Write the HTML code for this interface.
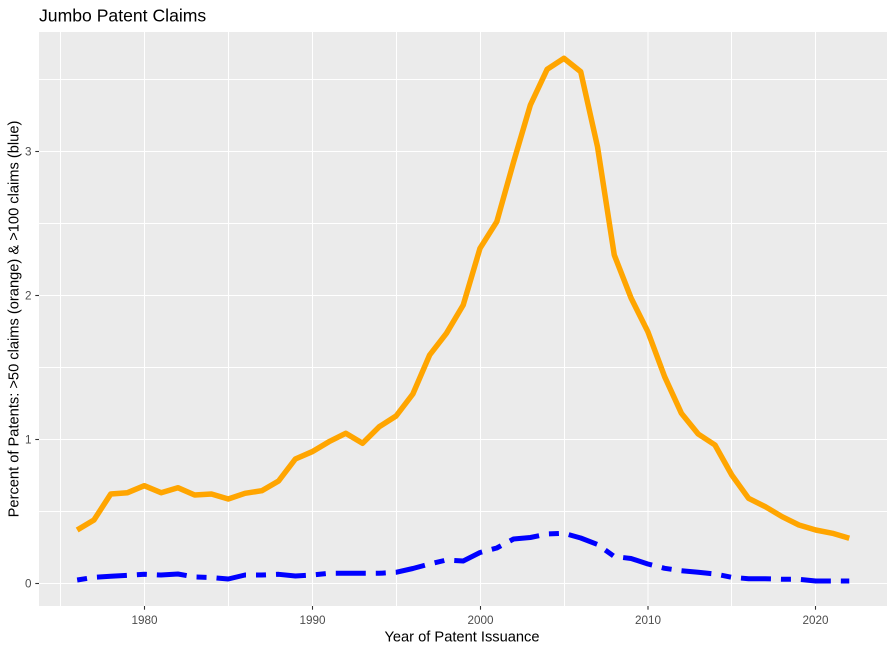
<!DOCTYPE html>
<html>
<head>
<meta charset="utf-8">
<style>
html,body{margin:0;padding:0;background:#fff;}
svg{display:block;}
text{font-family:"Liberation Sans",Arial,sans-serif;}
</style>
</head>
<body>
<svg width="895" height="652" viewBox="0 0 895 652" xmlns="http://www.w3.org/2000/svg">
<rect x="0" y="0" width="895" height="652" fill="#ffffff"/>
<!-- panel -->
<rect x="39" y="32" width="848" height="574" fill="#EBEBEB"/>
<g stroke="#ffffff" shape-rendering="crispEdges">
  <!-- minor horizontal -->
  <g stroke-width="0.8">
    <line x1="39" x2="887" y1="511.5" y2="511.5"/>
    <line x1="39" x2="887" y1="367.5" y2="367.5"/>
    <line x1="39" x2="887" y1="223.5" y2="223.5"/>
    <line x1="39" x2="887" y1="79.5" y2="79.5"/>
    <!-- minor vertical -->
    <line y1="32" y2="606" x1="60.5" x2="60.5"/>
    <line y1="32" y2="606" x1="228.5" x2="228.5"/>
    <line y1="32" y2="606" x1="396.5" x2="396.5"/>
    <line y1="32" y2="606" x1="564.5" x2="564.5"/>
    <line y1="32" y2="606" x1="731.5" x2="731.5"/>
  </g>
  <g stroke-width="1.3">
    <line x1="39" x2="887" y1="583.5" y2="583.5"/>
    <line x1="39" x2="887" y1="439.5" y2="439.5"/>
    <line x1="39" x2="887" y1="295.5" y2="295.5"/>
    <line x1="39" x2="887" y1="151.5" y2="151.5"/>
    <line y1="32" y2="606" x1="144.5" x2="144.5"/>
    <line y1="32" y2="606" x1="312.5" x2="312.5"/>
    <line y1="32" y2="606" x1="480.5" x2="480.5"/>
    <line y1="32" y2="606" x1="648" x2="648"/>
    <line y1="32" y2="606" x1="815.5" x2="815.5"/>
  </g>
</g>

<!-- orange series -->
<polyline fill="none" stroke="#FFA500" stroke-width="5.5" stroke-linejoin="round" stroke-linecap="butt"
points="77.16,530 93.95,520 110.73,494 127.52,492.7 144.3,485.7 161.09,492.7 177.87,487.7 194.66,495 211.44,494 228.23,499 245.01,493.3 261.8,490.7 278.58,481 295.37,459 312.15,451.7 328.94,441.7 345.72,433.3 362.51,443.3 379.29,426.7 396.08,416 412.86,394 429.65,355 446.43,333.3 463.22,305 480,248.3 496.79,221.7 513.57,162 530.36,105 547.14,69.3 563.93,58.3 580.71,71.7 597.5,146.7 614.28,255 631.07,298 647.85,331.7 664.64,376.7 681.42,413.3 698.21,434 714.99,445 731.78,475 748.56,498.3 765.35,506.7 782.13,516.7 798.92,525 815.7,530 832.49,533.3 849.27,538.3"/>

<!-- blue series -->
<polyline fill="none" stroke="#0000FF" stroke-width="5" stroke-linejoin="round" stroke-linecap="butt" stroke-dasharray="10 10 30 10"
points="77.16,580 93.95,577.3 110.73,576.3 127.52,575.3 144.3,574.3 161.09,575 177.87,574 194.66,577 211.44,577.5 228.23,579 245.01,575 261.8,575 278.58,574.3 295.37,576 312.15,575 328.94,573.3 345.72,573.3 362.51,573.3 379.29,573.3 396.08,572.3 412.86,568.5 429.65,564 446.43,560 463.22,561 480,552.5 496.79,548 513.57,539 530.36,537.5 547.14,534 563.93,533.3 580.71,538 597.5,544.5 614.28,556.5 631.07,558.5 647.85,564 664.64,568.3 681.42,570.7 698.21,572.3 714.99,574 731.78,577.3 748.56,578.7 765.35,578.7 782.13,579.3 798.92,579.3 815.7,581 832.49,581 849.27,581"/>

<!-- axis ticks -->
<g stroke="#333333" stroke-width="1.1">
  <line x1="35.3" x2="39" y1="583.5" y2="583.5"/>
  <line x1="35.3" x2="39" y1="439.5" y2="439.5"/>
  <line x1="35.3" x2="39" y1="295.5" y2="295.5"/>
  <line x1="35.3" x2="39" y1="151.5" y2="151.5"/>
  <line y1="606" y2="609.7" x1="144.5" x2="144.5"/>
  <line y1="606" y2="609.7" x1="312.5" x2="312.5"/>
  <line y1="606" y2="609.7" x1="480.5" x2="480.5"/>
  <line y1="606" y2="609.7" x1="648" x2="648"/>
  <line y1="606" y2="609.7" x1="815.5" x2="815.5"/>
</g>

<!-- tick labels -->
<g fill="#4D4D4D" font-size="11.7">
  <text x="31.5" y="587.7" text-anchor="end">0</text>
  <text x="31.5" y="443.7" text-anchor="end">1</text>
  <text x="31.5" y="299.7" text-anchor="end">2</text>
  <text x="31.5" y="155.7" text-anchor="end">3</text>
  <text x="144.5" y="624" text-anchor="middle">1980</text>
  <text x="312.5" y="624" text-anchor="middle">1990</text>
  <text x="480.5" y="624" text-anchor="middle">2000</text>
  <text x="648" y="624" text-anchor="middle">2010</text>
  <text x="815.5" y="624" text-anchor="middle">2020</text>
</g>

<!-- axis titles -->
<text x="462" y="641.5" text-anchor="middle" font-size="14.67" fill="#000">Year of Patent Issuance</text>
<text transform="translate(18.5,319) rotate(-90)" text-anchor="middle" font-size="14.67" fill="#000">Percent of Patents: &gt;50 claims (orange) &amp; &gt;100 claims (blue)</text>

<!-- title -->
<text x="39" y="21.7" font-size="17.6" fill="#000">Jumbo Patent Claims</text>
</svg>
</body>
</html>
